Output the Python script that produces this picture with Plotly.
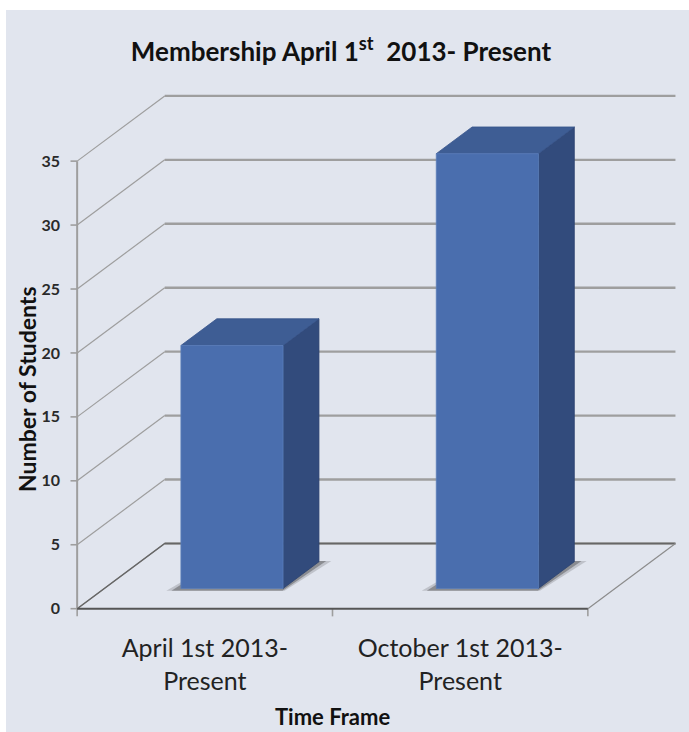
import plotly.graph_objects as go

# ---------------- data ----------------
categories = ["April 1st 2013-<br>Present", "October 1st 2013-<br>Present"]
members = [19, 34]
y_ticks = [0, 5, 10, 15, 20, 25, 30, 35]
y_tick_labels = [str(v) for v in y_ticks]
title_text = "Membership April 1<sup>st</sup>  2013- Present"
x_title = "Time Frame"
y_title = "Number of Students"

# ---------------- 3D oblique projection settings ----------------
DX = 0.343       # depth offset in category units
DY = 5.1         # depth offset in value units
Z_FRONT, Z_BACK = 0.31, 0.72
BAR_W = 0.40
N = len(categories)
Y_MAX = max(y_ticks)


def proj(x, v, z):
    return x + z * DX, v + z * DY


def poly(points):
    xs, ys = [], []
    for p in points:
        px, py = proj(*p)
        xs.append(px)
        ys.append(py)
    xs.append(xs[0])
    ys.append(ys[0])
    return xs, ys


W, H = 689, 732
ML, MR, MT, MB = 70, 11, 94, 115
PW, PH = W - ML - MR, H - MT - MB
X_RANGE = [-0.028, N + DX + 0.01]
Y_RANGE = [-0.65, Y_MAX + DY + 0.15]

BG = "#E1E5EE"
GRID = "#9E9E9E"
DARK = "#666666"
FRONT = "#4A6EAE"
TOP = "#3E5D94"
SIDE = "#324B7C"

fig = go.Figure()

# back-wall gridlines and left-wall diagonals
bx, by, dx_, dy_ = [], [], [], []
for v in y_ticks:
    x0, y0 = proj(0, v, 0)
    x1, y1 = proj(0, v, 1)
    x2, y2 = proj(N, v, 1)
    dx_ += [x0, x1, None]
    dy_ += [y0, y1, None]
    bx += [x1, x2, None]
    by += [y1, y2, None]
fig.add_trace(go.Scatter(x=bx, y=by, mode="lines",
                         line=dict(color=GRID, width=2.4), hoverinfo="skip"))
fig.add_trace(go.Scatter(x=dx_, y=dy_, mode="lines",
                         line=dict(color=GRID, width=1.2), hoverinfo="skip"))
# floor back line and zero diagonal darker
zx0, zy0 = proj(0, 0, 0)
zx1, zy1 = proj(0, 0, 1)
zx2, zy2 = proj(N, 0, 1)
fig.add_trace(go.Scatter(x=[zx0, zx1, zx2], y=[zy0, zy1, zy2], mode="lines",
                         line=dict(color=DARK, width=1.4), hoverinfo="skip"))
# floor right edge
rx0, ry0 = proj(N, 0, 0)
rx1, ry1 = proj(N, 0, 1)
fig.add_trace(go.Scatter(x=[rx0, rx1], y=[ry0, ry1], mode="lines",
                         line=dict(color="#8C8C8C", width=1.2), hoverinfo="skip"))
# front vertical axis
fig.add_trace(go.Scatter(x=[0, 0], y=[0, Y_MAX], mode="lines",
                         line=dict(color=GRID, width=2), hoverinfo="skip"))
# y tick marks
tx, ty = [], []
for v in y_ticks:
    tx += [X_RANGE[0] + 0.002, 0, None]
    ty += [v, v, None]
fig.add_trace(go.Scatter(x=tx, y=ty, mode="lines",
                         line=dict(color=GRID, width=1.6), hoverinfo="skip"))
# x tick marks (category boundaries)
cx, cy = [], []
for k in range(N + 1):
    cx += [k, k, None]
    cy += [0, Y_RANGE[0] + 0.05, None]
fig.add_trace(go.Scatter(x=cx, y=cy, mode="lines",
                         line=dict(color=GRID, width=1.6), hoverinfo="skip"))
# floor front edge
fig.add_trace(go.Scatter(x=[0, N], y=[0, 0], mode="lines",
                         line=dict(color="#555555", width=2), hoverinfo="skip"))

# bars
for i, h in enumerate(members):
    c = i + 0.5
    x0, x1 = c - BAR_W / 2, c + BAR_W / 2
    # shadow (soft, two layers)
    for grow, alpha in [(0.045, 0.18), (0.025, 0.35)]:
        sx, sy = poly([(x0 - grow, 0, Z_FRONT - 0.035), (x1 + grow * 0.4, 0, Z_FRONT - 0.035),
                       (x1 + grow, 0, Z_BACK + 0.01), (x0, 0, Z_BACK + 0.01)])
        fig.add_trace(go.Scatter(x=sx, y=sy, mode="lines", fill="toself",
                                 fillcolor=f"rgba(40,40,40,{alpha})",
                                 line=dict(width=0), hoverinfo="skip"))
    # side face
    sx, sy = poly([(x1, 0, Z_FRONT), (x1, 0, Z_BACK), (x1, h, Z_BACK), (x1, h, Z_FRONT)])
    fig.add_trace(go.Scatter(x=sx, y=sy, mode="lines", fill="toself", fillcolor=SIDE,
                             line=dict(color="#2C4270", width=0.8), hoverinfo="skip"))
    # top face
    sx, sy = poly([(x0, h, Z_FRONT), (x1, h, Z_FRONT), (x1, h, Z_BACK), (x0, h, Z_BACK)])
    fig.add_trace(go.Scatter(x=sx, y=sy, mode="lines", fill="toself", fillcolor=TOP,
                             line=dict(color="#36538A", width=0.8), hoverinfo="skip"))
    # front face
    sx, sy = poly([(x0, 0, Z_FRONT), (x1, 0, Z_FRONT), (x1, h, Z_FRONT), (x0, h, Z_FRONT)])
    fig.add_trace(go.Scatter(x=sx, y=sy, mode="lines", fill="toself", fillcolor=FRONT,
                             line=dict(color="#5A7DBA", width=0.8), hoverinfo="skip"))


def pxx(px):
    return (px - ML) / PW


def pxy(py):
    return (H - MB - py) / PH


fig.update_layout(
    width=W, height=H,
    margin=dict(l=ML, r=MR, t=MT, b=MB),
    paper_bgcolor="white",
    plot_bgcolor="rgba(0,0,0,0)",
    showlegend=False,
    font=dict(family="Lato, 'Open Sans', sans-serif", color="#222222"),
    title=dict(text=title_text, x=341 / W, xanchor="center", y=1 - 52 / H,
               yanchor="middle", yref="container",
               font=dict(size=26, color="#111111", weight="bold")),
    xaxis=dict(range=X_RANGE, showgrid=False, zeroline=False, showline=False,
               tickmode="array", tickvals=[i + 0.5 for i in range(N)],
               ticktext=categories, ticks="", ticklabelstandoff=14,
               tickfont=dict(size=25, color="#222222"), fixedrange=True),
    yaxis=dict(range=Y_RANGE, showgrid=False, zeroline=False, showline=False,
               tickmode="array", tickvals=y_ticks, ticktext=y_tick_labels,
               ticks="", ticklabelstandoff=9,
               tickfont=dict(size=16, color="#2A2A2A", weight="bold"), fixedrange=True),
    shapes=[dict(type="rect", xref="paper", yref="paper", layer="below",
                 x0=pxx(6), x1=pxx(W + 2), y0=pxy(H + 2), y1=pxy(10),
                 fillcolor=BG, line=dict(width=0))],
    annotations=[
        dict(text=y_title, xref="paper", yref="paper", x=pxx(27), y=pxy(389),
             xanchor="center", yanchor="middle", textangle=-90, showarrow=False,
             font=dict(size=23, color="#111111", weight="bold")),
        dict(text=x_title, xref="paper", yref="paper", x=pxx(332), y=pxy(716),
             xanchor="center", yanchor="middle", showarrow=False,
             font=dict(size=22, color="#111111", weight="bold")),
    ],
)

fig.write_html("out.html", config={"displayModeBar": False},
               post_script="document.body.style.margin='0';document.body.style.padding='0';")
